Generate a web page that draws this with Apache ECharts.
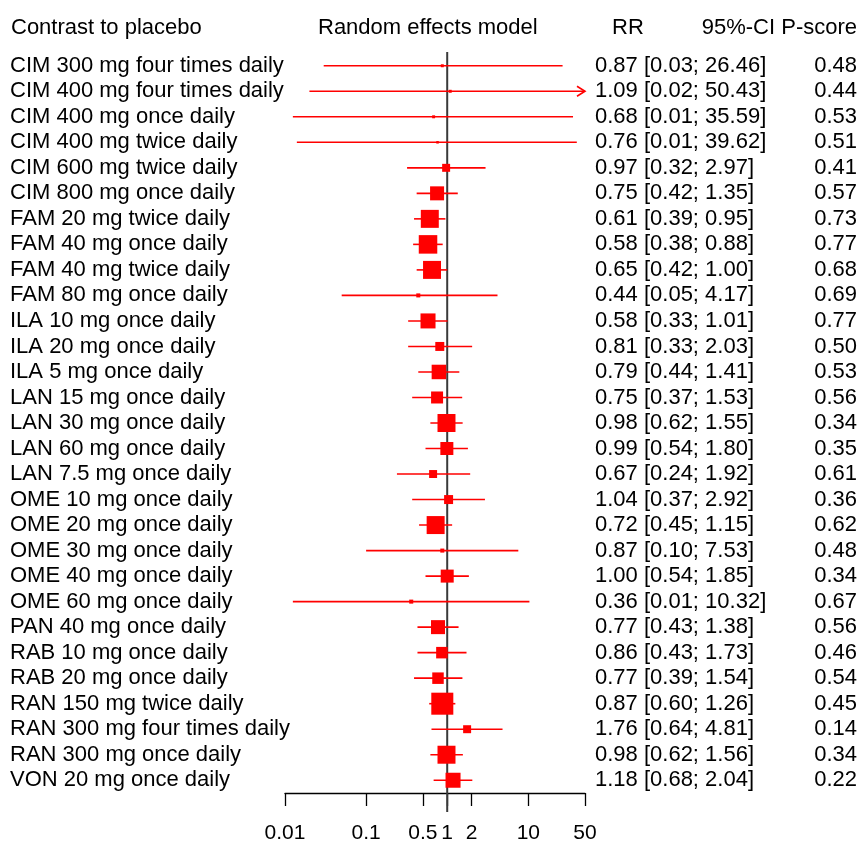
<!DOCTYPE html>
<html>
<head>
<meta charset="utf-8">
<title>Forest plot</title>
<script src="https://cdn.jsdelivr.net/npm/echarts@6/dist/echarts.min.js"></script>
<style>
  html, body { margin: 0; padding: 0; background: #fff; }
  #chart { width: 858px; height: 844px; }
</style>
</head>
<body>
<div id="chart"></div>
<script>
// treatments, in plot order (top to bottom)
const treatments = [
  "CIM 300 mg four times daily", "CIM 400 mg four times daily", "CIM 400 mg once daily",
  "CIM 400 mg twice daily", "CIM 600 mg twice daily", "CIM 800 mg once daily",
  "FAM 20 mg twice daily", "FAM 40 mg once daily", "FAM 40 mg twice daily",
  "FAM 80 mg once daily", "ILA 10 mg once daily", "ILA 20 mg once daily",
  "ILA 5 mg once daily", "LAN 15 mg once daily", "LAN 30 mg once daily",
  "LAN 60 mg once daily", "LAN 7.5 mg once daily", "OME 10 mg once daily",
  "OME 20 mg once daily", "OME 30 mg once daily", "OME 40 mg once daily",
  "OME 60 mg once daily", "PAN 40 mg once daily", "RAB 10 mg once daily",
  "RAB 20 mg once daily", "RAN 150 mg twice daily", "RAN 300 mg four times daily",
  "RAN 300 mg once daily", "VON 20 mg once daily"
];
const rr     = [0.87, 1.09, 0.68, 0.76, 0.97, 0.75, 0.61, 0.58, 0.65, 0.44, 0.58, 0.81, 0.79, 0.75, 0.98,
                0.99, 0.67, 1.04, 0.72, 0.87, 1.00, 0.36, 0.77, 0.86, 0.77, 0.87, 1.76, 0.98, 1.18];
const ciLow  = [0.03, 0.02, 0.0125, 0.014, 0.32, 0.42, 0.39, 0.38, 0.42, 0.05, 0.33, 0.33, 0.44, 0.37, 0.62,
                0.54, 0.24, 0.37, 0.45, 0.10, 0.54, 0.0125, 0.43, 0.43, 0.39, 0.60, 0.64, 0.62, 0.68];
const ciHigh = [26.46, 50.43, 35.59, 39.62, 2.97, 1.35, 0.95, 0.88, 1.00, 4.17, 1.01, 2.03, 1.41, 1.53, 1.55,
                1.80, 1.92, 2.92, 1.15, 7.53, 1.85, 10.32, 1.38, 1.73, 1.54, 1.26, 4.81, 1.56, 2.04];
const pScore = [0.48, 0.44, 0.53, 0.51, 0.41, 0.57, 0.73, 0.77, 0.68, 0.69, 0.77, 0.50, 0.53, 0.56, 0.34,
                0.35, 0.61, 0.36, 0.62, 0.48, 0.34, 0.67, 0.56, 0.46, 0.54, 0.45, 0.14, 0.34, 0.22];
// relative weight of each comparison (sets the box size)
const weight = [0.18, 0.18, 0.18, 0.13, 1.3, 4.0, 6.6, 7.0, 6.6, 0.33, 4.6, 1.65, 4.3, 2.94, 6.6,
                3.45, 1.3, 1.65, 6.6, 0.33, 3.45, 0.33, 4.0, 2.7, 2.7, 9.9, 1.3, 6.6, 4.6];

const tickValues = [0.01, 0.1, 0.5, 1, 2, 10, 50];
const tickLabels = ["0.01", "0.1", "0.5", "1", "2", "10", "50"];

const FONT = "'Liberation Sans', Arial, Helvetica, sans-serif";
const RED = "#ff0000";
const X_MIN = 0.01, X_MAX = 50;

const chart = echarts.init(document.getElementById("chart"), null, { renderer: "canvas" });

const rows = treatments.map((t, i) => [rr[i], i, ciLow[i], ciHigh[i], weight[i], pScore[i]]);

const option = {
  backgroundColor: "#ffffff",
  animation: false,
  textStyle: { fontFamily: FONT },
  grid: { left: 285, top: 53, width: 300, height: 740 },
  xAxis: {
    type: "log",
    logBase: 10,
    min: X_MIN,
    max: X_MAX,
    splitLine: { show: false },
    axisLine: { show: true, onZero: false, lineStyle: { color: "#000", width: 1.3 } },
    axisTick: { show: true, customValues: tickValues, length: 13, lineStyle: { color: "#000", width: 1.3 } },
    axisLabel: {
      customValues: tickValues,
      margin: 30,
      fontSize: 21,
      color: "#000",
      fontFamily: FONT,
      formatter: function (v) {
        let best = 0;
        tickValues.forEach((t, k) => {
          if (Math.abs(Math.log(t) - Math.log(v)) < Math.abs(Math.log(tickValues[best]) - Math.log(v))) best = k;
        });
        return tickLabels[best];
      }
    }
  },
  yAxis: {
    type: "category",
    inverse: true,
    data: treatments,
    axisLine: { show: false },
    axisTick: { show: false },
    splitLine: { show: false },
    axisLabel: {
      interval: 0,
      align: "left",
      margin: 275,
      fontSize: 22,
      color: "#000",
      fontFamily: FONT
    }
  },
  graphic: [
    { type: "text", left: 11, top: 17, style: { text: "Contrast to placebo", font: "22px " + FONT, fill: "#000" } },
    { type: "text", left: 318, top: 17, style: { text: "Random effects model", font: "22px " + FONT, fill: "#000" } },
    { type: "text", left: 612, top: 17, style: { text: "RR", font: "22px " + FONT, fill: "#000" } },
    { type: "text", right: 1, top: 17, style: { text: "95%-CI P-score", font: "22px " + FONT, fill: "#000" } }
  ],
  series: [
    {
      // line of no effect
      type: "custom",
      z: 1,
      data: [[1, 0]],
      renderItem: function (params, api) {
        const cs = params.coordSys;
        const x = api.coord([1, 0])[0];
        return {
          type: "line",
          shape: { x1: x, y1: cs.y - 1, x2: x, y2: cs.y + cs.height + 19 },
          style: { stroke: "#3a3a3a", lineWidth: 2 }
        };
      }
    },
    {
      type: "custom",
      z: 2,
      data: rows,
      renderItem: function (params, api) {
        const idx = params.dataIndex;
        const i = api.value(1);
        const est = api.value(0);
        const lo = api.value(2);
        const hi = api.value(3);
        const w = api.value(4);
        const c = api.coord([est, i]);
        const y = c[1];
        const over = hi > X_MAX;
        const x1 = api.coord([Math.max(lo, X_MIN), i])[0];
        const x2 = api.coord([Math.min(hi, X_MAX), i])[0];
        const side = 7 * Math.sqrt(w);
        const children = [
          { type: "line", shape: { x1: x1, y1: y, x2: x2, y2: y }, style: { stroke: RED, lineWidth: 1.6 } }
        ];
        if (over) {
          children.push({
            type: "polyline",
            shape: { points: [[x2 - 8, y - 5], [x2, y], [x2 - 8, y + 5]] },
            style: { stroke: RED, lineWidth: 1.6, fill: null }
          });
        }
        children.push({
          type: "rect",
          shape: { x: c[0] - side / 2, y: y - side / 2, width: side, height: side },
          style: { fill: RED }
        });
        children.push({
          type: "text",
          style: {
            x: 595, y: y,
            text: rr[idx].toFixed(2) + " [" + ciLow[idx].toFixed(2) + "; " + ciHigh[idx].toFixed(2) + "]",
            font: "22px " + FONT, fill: "#000", align: "left", verticalAlign: "middle"
          }
        });
        children.push({
          type: "text",
          style: {
            x: 857, y: y,
            text: pScore[idx].toFixed(2),
            font: "22px " + FONT, fill: "#000", align: "right", verticalAlign: "middle"
          }
        });
        return { type: "group", children: children };
      }
    }
  ]
};

chart.setOption(option);
window.onresize = () => chart.resize();
</script>
</body>
</html>
